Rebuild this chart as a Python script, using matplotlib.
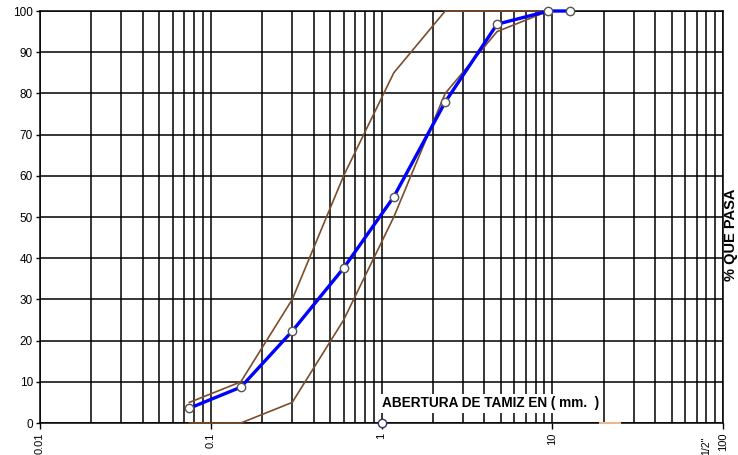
import matplotlib.pyplot as plt
from matplotlib.ticker import FixedLocator, NullFormatter, LogLocator

# abertura de tamiz (mm) y % que pasa
sieve_mm = [0.075, 0.15, 0.3, 0.6, 1.18, 2.36, 4.75, 9.5, 12.7]
passing = [3.6, 8.7, 22.3, 37.6, 54.9, 77.9, 96.8, 100, 100]

# limites (huso granulometrico)
limit_mm = [0.075, 0.15, 0.3, 0.6, 1.18, 2.36, 4.75, 9.5]
upper = [5, 10, 30, 60, 85, 100, 100, 100]
lower = [0, 0, 5, 25, 50, 80, 95, 100]

extra_mm = [19, 25]
extra_pct = [0, 0]

tick_vals = [0.01, 0.1, 1, 10, 100]
tick_labels = ['0.01', '0.1', '1', '10', '100']
y_ticks = list(range(0, 101, 10))

plt.rcParams['font.family'] = ['Liberation Sans', 'DejaVu Sans']

fig = plt.figure(figsize=(7.38, 4.55), dpi=100)
ax = fig.add_axes([0.0542, 0.0703, 0.9255, 0.9055])

ax.set_xscale('log')
ax.set_xlim(0.01, 100)
ax.set_ylim(0, 100)

# rejilla
ax.xaxis.set_major_locator(FixedLocator(tick_vals))
ax.xaxis.set_minor_locator(LogLocator(base=10, subs=range(2, 10), numticks=20))
ax.xaxis.set_minor_formatter(NullFormatter())
ax.set_xticklabels(tick_labels, rotation=90, fontsize=8)
ax.set_yticks(y_ticks)
ax.tick_params(axis='y', labelsize=8.5, length=3, width=1, pad=2)
ax.tick_params(axis='x', which='major', length=4, width=1, pad=3)
ax.tick_params(axis='x', which='minor', length=0)
ax.grid(True, which='both', axis='x', color='black', lw=1.1)
ax.grid(True, which='major', axis='y', color='black', lw=1.1)
ax.set_axisbelow(True)
for s in ax.spines.values():
    s.set_color('black')
    s.set_linewidth(1.1)

ax.plot(limit_mm, upper, color='#7a4e2d', lw=1.2, zorder=3, clip_on=False)
ax.plot(limit_mm, lower, color='#7a4e2d', lw=1.2, zorder=3, clip_on=False)
ax.plot(extra_mm, extra_pct, color='#e8b890', lw=1.5, zorder=3, clip_on=False)

ax.plot(sieve_mm, passing, color='#0000ff', lw=2.4, marker='o', ms=6,
        mfc='white', mec='#555555', mew=1, zorder=4, clip_on=False)
ax.plot([1], [0], marker='o', ms=6, mfc='white', mec='#333366', mew=1,
        zorder=5, clip_on=False)

ax.text(1.0, 4.8, 'ABERTURA DE TAMIZ EN ( mm.  )', fontsize=9.8,
        fontweight='bold', va='center', ha='left', zorder=6,
        bbox=dict(facecolor='white', edgecolor='none', pad=2))

ax.text(80, -0.034, '1/2"', transform=ax.get_xaxis_transform(),
        rotation=90, fontsize=7.5, ha='center', va='top')

fig.text(0.991, 0.485, '% QUE PASA', rotation=90, fontsize=10.5,
         fontweight='bold', ha='center', va='center')

fig.savefig('out.png', dpi=100)
